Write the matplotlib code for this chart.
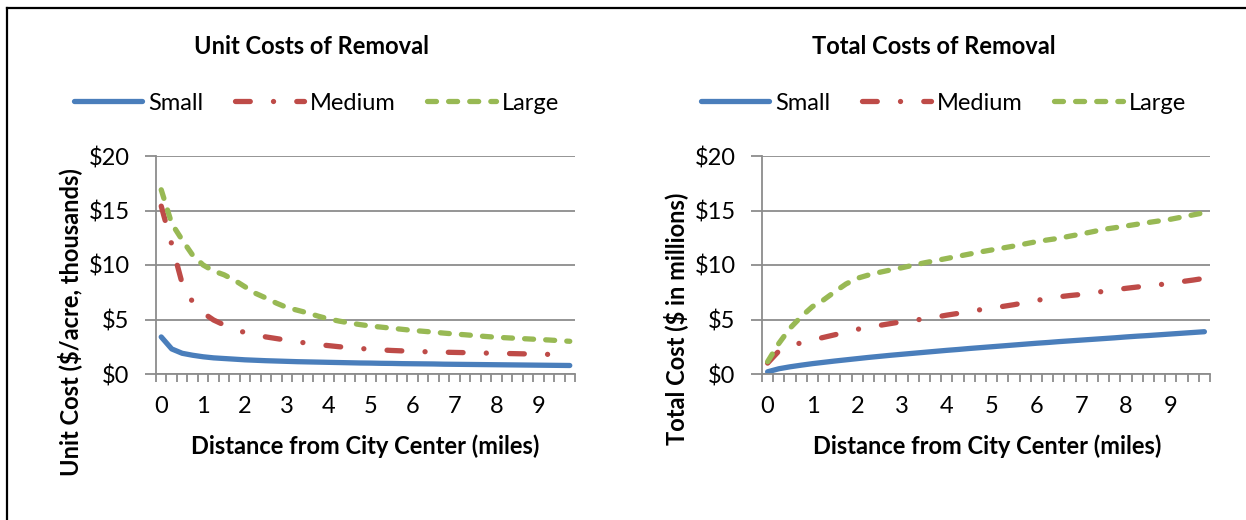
import numpy as np
import matplotlib.pyplot as plt
from matplotlib.lines import Line2D

plt.rcParams['font.family'] = ['Lato', 'DejaVu Sans']

# distance categories (miles), one every quarter mile
distance = [0.0, 0.25, 0.5, 0.75, 1.0, 1.25, 1.5, 1.75, 2.0, 2.25,
            2.5, 2.75, 3.0, 3.25, 3.5, 3.75, 4.0, 4.25, 4.5, 4.75,
            5.0, 5.25, 5.5, 5.75, 6.0, 6.25, 6.5, 6.75, 7.0, 7.25,
            7.5, 7.75, 8.0, 8.25, 8.5, 8.75, 9.0, 9.25, 9.5, 9.75]
tick_labels = ['0', '1', '2', '3', '4', '5', '6', '7', '8', '9']
y_ticks = [0, 5, 10, 15, 20]
y_tick_labels = ['\\$0', '\\$5', '\\$10', '\\$15', '\\$20']

# unit cost, $/acre in thousands
unit_small = [3.4, 2.3, 1.9, 1.72, 1.58, 1.48, 1.42, 1.36, 1.30, 1.26,
              1.22, 1.19, 1.16, 1.13, 1.11, 1.09, 1.07, 1.05, 1.03, 1.01,
              1.00, 0.98, 0.97, 0.95, 0.94, 0.93, 0.92, 0.90, 0.89, 0.88,
              0.87, 0.86, 0.85, 0.84, 0.83, 0.82, 0.81, 0.80, 0.79, 0.78]
unit_medium = [15.4, 11.9, 8.3, 6.6, 5.6, 4.95, 4.5, 4.1, 3.8, 3.6,
               3.4, 3.25, 3.1, 2.95, 2.82, 2.7, 2.6, 2.5, 2.42, 2.34,
               2.27, 2.21, 2.16, 2.12, 2.08, 2.05, 2.02, 2.0, 1.98, 1.96,
               1.94, 1.92, 1.9, 1.88, 1.86, 1.84, 1.82, 1.8, 1.78, 1.76]
unit_large = [16.9, 13.8, 12.3, 10.9, 10.0, 9.45, 9.1, 8.6, 8.0, 7.4,
              6.97, 6.5, 6.1, 5.85, 5.6, 5.3, 5.05, 4.85, 4.68, 4.53,
              4.4, 4.3, 4.2, 4.1, 4.0, 3.92, 3.84, 3.75, 3.67, 3.6,
              3.52, 3.44, 3.37, 3.32, 3.27, 3.22, 3.17, 3.12, 3.06, 3.0]

# total cost, $ in millions
total_small = [0.2, 0.48, 0.66, 0.81, 0.95, 1.07, 1.19, 1.3, 1.41, 1.52,
               1.62, 1.72, 1.81, 1.9, 1.99, 2.08, 2.17, 2.25, 2.34, 2.42,
               2.5, 2.58, 2.66, 2.74, 2.82, 2.89, 2.97, 3.04, 3.11, 3.18,
               3.25, 3.32, 3.4, 3.47, 3.53, 3.6, 3.67, 3.74, 3.81, 3.88]
total_medium = [1.0, 2.1, 2.55, 2.87, 3.12, 3.36, 3.6, 3.85, 4.1, 4.28,
                4.46, 4.63, 4.8, 4.93, 5.05, 5.22, 5.4, 5.56, 5.72, 5.9,
                6.05, 6.2, 6.36, 6.55, 6.75, 6.92, 7.08, 7.2, 7.3, 7.45,
                7.58, 7.72, 7.86, 7.98, 8.1, 8.2, 8.32, 8.48, 8.62, 8.78]
total_large = [1.13, 2.8, 4.2, 5.26, 6.18, 6.8, 7.55, 8.26, 8.78, 9.08,
               9.33, 9.55, 9.75, 9.98, 10.2, 10.4, 10.6, 10.8, 11.0, 11.2,
               11.38, 11.56, 11.74, 11.94, 12.14, 12.3, 12.45, 12.65, 12.84, 13.05,
               13.27, 13.42, 13.58, 13.74, 13.9, 14.05, 14.2, 14.4, 14.6, 14.8]

BLUE = '#4A7EBB'
RED = '#BE4B48'
GREEN = '#98B954'
GRID = '#8C8C8C'
FS = 17

W, H = 1246, 520
fig = plt.figure(figsize=(W / 100, H / 100), dpi=100)

# frame around the sheet area
fig.add_artist(Line2D([7 / W, 7 / W], [0, 1 - 8 / H], color='black', lw=1.6))
fig.add_artist(Line2D([7 / W, 1], [1 - 8 / H, 1 - 8 / H], color='black', lw=1.6))


def px(x, y):
    return x / W, 1 - y / H


def draw_panel(rect, small, medium, large):
    ax = fig.add_axes(rect)
    x = np.arange(len(distance))
    ax.plot(x, small, color=BLUE, lw=3.8, solid_capstyle='round', label='Small')
    ax.plot(x, medium, color=RED, lw=3.8, dashes=(2.8, 4.4, 0.01, 4.4),
            dash_capstyle='round', label='Medium')
    ax.plot(x, large, color=GREEN, lw=3.8, dashes=(1.7, 2.3),
            dash_capstyle='round', label='Large')

    ax.set_xlim(-0.5, len(x) - 0.5)
    ax.set_ylim(0, 20)
    ax.set_yticks(y_ticks)
    ax.set_yticklabels(y_tick_labels)
    ax.set_xticks(x[::4])
    ax.set_xticklabels(tick_labels)
    ax.set_xticks(np.arange(-0.5, len(x)), minor=True)
    ax.tick_params(axis='x', which='major', length=0, pad=16, labelsize=FS)
    ax.tick_params(axis='x', which='minor', length=6, width=1.3, color=GRID)
    ax.tick_params(axis='y', length=8, width=1.3, color=GRID, pad=11, labelsize=FS)

    ax.set_axisbelow(True)
    ax.grid(axis='y', color=GRID, lw=1.3)
    for s in ['top', 'right']:
        ax.spines[s].set_visible(False)
    for s in ['left', 'bottom']:
        ax.spines[s].set_color(GRID)
        ax.spines[s].set_linewidth(1.3)
    return ax


ax1 = draw_panel([156 / W, 1 - 374 / H, 419 / W, 218 / H],
                 unit_small, unit_medium, unit_large)
ax2 = draw_panel([762 / W, 1 - 374 / H, 448 / W, 218 / H],
                 total_small, total_medium, total_large)

fig.text(*px(311, 47), 'Unit Costs of Removal', ha='center', va='center',
         fontsize=FS, fontweight='bold')
fig.text(*px(934, 47), 'Total Costs of Removal', ha='center', va='center',
         fontsize=FS, fontweight='bold')
fig.text(*px(365, 446), 'Distance from City Center (miles)', ha='center',
         va='center', fontsize=FS, fontweight='bold')
fig.text(*px(987, 446), 'Distance from City Center (miles)', ha='center',
         va='center', fontsize=FS, fontweight='bold')
fig.text(*px(70, 322), 'Unit Cost (\\$/acre, thousands)', ha='center',
         va='center', rotation=90, fontsize=FS, fontweight='bold')
fig.text(*px(676, 319), 'Total Cost (\\$ in millions)', ha='center',
         va='center', rotation=90, fontsize=FS, fontweight='bold')

for ax, x0 in [(ax1, 74), (ax2, 701)]:
    h, l = ax.get_legend_handles_labels()
    fig.legend(h, l, loc='center left', bbox_to_anchor=px(x0, 103), ncol=3,
               frameon=False, fontsize=FS, handlelength=2.9, handletextpad=0.25,
               columnspacing=1.35, borderpad=0, borderaxespad=0)

fig.savefig('out.png', dpi=100)
